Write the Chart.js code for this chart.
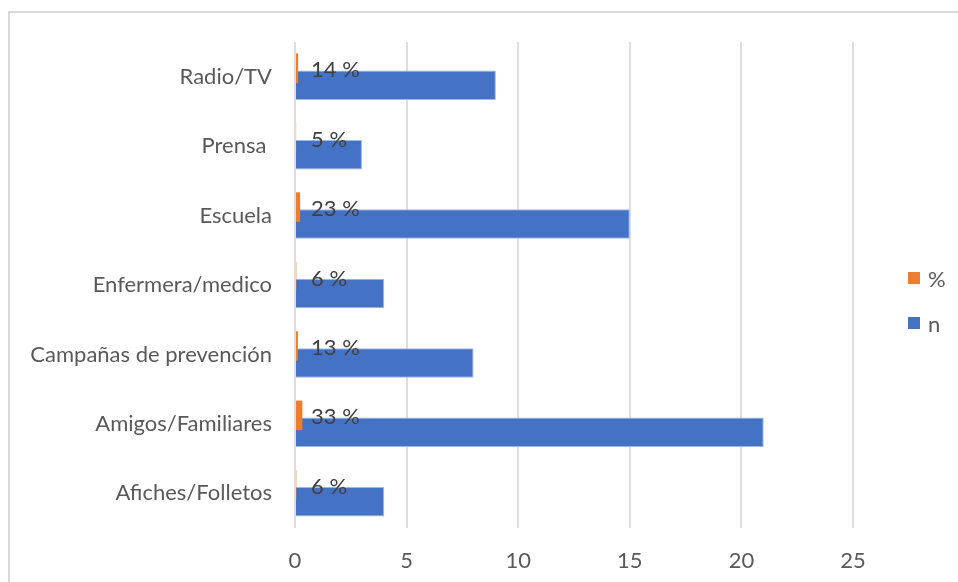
<!DOCTYPE html>
<html>
<head>
<meta charset="utf-8">
<script src="https://cdn.jsdelivr.net/npm/chart.js@4/dist/chart.umd.min.js"></script>
<style>
  html, body { margin: 0; padding: 0; background: #fff; overflow: hidden; }
  #frame { position: absolute; left: 8px; top: 11px; width: 1000px; height: 700px;
           border-left: 2px solid #d9d9d9; border-top: 2px solid #d9d9d9; }
  #wrap { position: absolute; left: 0; top: 0; width: 958px; height: 582px; }
  #legend { position: absolute; left: 908px; top: 266px; font-family: Lato, sans-serif;
            font-size: 22px; color: #595959; }
  #legend .item { display: flex; align-items: center; height: 24px; margin-bottom: 21px; }
  #legend .box { width: 12px; height: 12px; margin-right: 8px; }
</style>
</head>
<body>
<div id="frame"></div>
<div id="wrap"><canvas id="grafico" width="958" height="582"></canvas></div>
<div id="legend"></div>
<script>
// =============== DADOS ===============
const categorias = ["Radio/TV", "Prensa ", "Escuela", "Enfermera/medico",
                    "Campañas de prevención", "Amigos/Familiares", "Afiches/Folletos"];
const valoresPct = [0.14, 0.05, 0.23, 0.06, 0.13, 0.33, 0.06];
const valoresN = [9, 3, 15, 4, 8, 21, 4];
const ticksX = [0, 5, 10, 15, 20, 25];

const corTexto = '#595959';
const fonte = 'Lato';

// rótulos "14 %" ao lado das barras laranja
const rotulosPct = {
    id: 'rotulosPct',
    afterDatasetsDraw(chart) {
        const ctx = chart.ctx;
        const meta = chart.getDatasetMeta(0);
        const x0 = chart.scales.x.getPixelForValue(0);
        ctx.save();
        ctx.font = '22px ' + fonte;
        ctx.fillStyle = '#404040';
        ctx.textAlign = 'left';
        ctx.textBaseline = 'middle';
        meta.data.forEach((bar, i) => {
            ctx.fillText(Math.round(valoresPct[i] * 100) + ' %', x0 + 16, bar.y + 2);
        });
        ctx.restore();
    }
};

const ctx = document.getElementById('grafico').getContext('2d');
const chart = new Chart(ctx, {
    type: 'bar',
    data: {
        labels: categorias,
        datasets: [
            {
                label: '%',
                data: valoresPct,
                backgroundColor: '#ED7D31',
                borderWidth: 0
            },
            {
                label: 'n',
                data: valoresN,
                backgroundColor: '#4472C4',
                borderColor: '#9fb7e4',
                borderWidth: 1
            }
        ]
    },
    options: {
        indexAxis: 'y',
        responsive: false,
        animation: false,
        categoryPercentage: 0.49,
        barPercentage: 1.735,
        layout: { padding: { top: 42, right: 105, bottom: 0, left: 0 } },
        plugins: {
            legend: { display: false },
            tooltip: { enabled: false }
        },
        scales: {
            x: {
                min: 0,
                max: 25,
                afterBuildTicks(scale) {
                    scale.ticks = ticksX.map(v => ({ value: v }));
                },
                afterFit(scale) { scale.height = 54; },
                border: { display: false },
                grid: { color: '#dedede', lineWidth: 2, drawTicks: false },
                ticks: {
                    padding: 20,
                    color: corTexto,
                    font: { family: fonte, size: 22 }
                }
            },
            y: {
                afterFit(scale) { scale.width = 295; },
                border: { display: false },
                grid: { display: false, drawTicks: false },
                ticks: {
                    padding: 23,
                    color: corTexto,
                    font: { family: fonte, size: 22 }
                }
            }
        }
    },
    plugins: [rotulosPct]
});

// legenda em HTML, montada a partir dos datasets
const legenda = document.getElementById('legend');
chart.data.datasets.forEach(ds => {
    const item = document.createElement('div');
    item.className = 'item';
    const box = document.createElement('span');
    box.className = 'box';
    box.style.background = ds.backgroundColor;
    const txt = document.createElement('span');
    txt.textContent = ds.label;
    item.appendChild(box);
    item.appendChild(txt);
    legenda.appendChild(item);
});
</script>
</body>
</html>
